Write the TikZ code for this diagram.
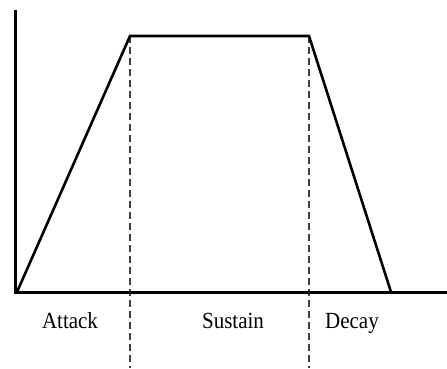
\documentclass[tikz,border=0pt]{standalone}
\usepackage{fontspec}
\setmainfont{Liberation Serif}
\begin{document}
\begin{tikzpicture}[x=1pt,y=-1pt,
  axis/.style={line width=3pt},
  env/.style={line width=2.6pt,line join=miter},
  guide/.style={line width=1.2pt,black!75,dash pattern=on 7pt off 4pt},
  lbl/.style={font=\fontsize{21}{24}\selectfont,anchor=base,yscale=1.1}]
\useasboundingbox (0,0) rectangle (447,368);
\coordinate (top) at (15,10);
\coordinate (origin) at (15,292);
\coordinate (xend) at (447,292);
\coordinate (s) at (17,292);
\coordinate (p1) at (130,36);
\coordinate (p2) at (309,36);
\coordinate (e) at (391,292);
\coordinate (d1) at (130,368);
\coordinate (d2) at (309,368);
\draw[guide] (p1) -- (d1);
\draw[guide] (p2) -- (d2);
\draw[axis] (top) -- (origin |- xend) -- (xend);
\draw[env] (s) -- (p1) -- (p2) -- (e);
\node[lbl] (attack) at (70,328) {Attack};
\node[lbl] (sustain) at (233,328) {Sustain};
\node[lbl] (decay) at (352,328) {Decay};
\end{tikzpicture}
\end{document}
